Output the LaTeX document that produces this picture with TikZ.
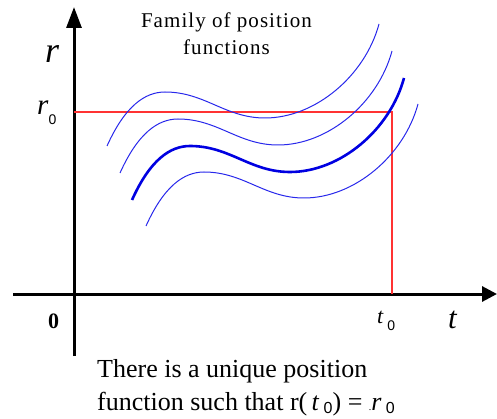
\documentclass[tikz,border=0pt]{standalone}
\usepackage{fontspec}
\setmainfont{Liberation Serif}
\newfontfamily\arialsub{Liberation Sans}
\usetikzlibrary{arrows.meta}
\definecolor{curveblue}{RGB}{40,40,235}
\definecolor{thickblue}{RGB}{0,0,225}
\definecolor{guidered}{RGB}{255,50,50}
\tikzset{
  axis/.style={line width=3pt, -{Triangle[length=21pt,width=15pt]}},
  xaxisstyle/.style={line width=3pt, -{Triangle[length=15pt,width=15pt]}},
  thincurve/.style={curveblue, line width=1pt},
  thickcurve/.style={thickblue, line width=2.6pt},
  guide/.style={guidered, line width=1.3pt},
  lab/.style={inner sep=0pt, anchor=base west},
}
\newcommand{\subz}[2]{\raisebox{-#2pt}{\arialsub\fontsize{#1}{#1}\selectfont 0}}
\begin{document}
\begin{tikzpicture}[x=1pt,y=-1pt]
\useasboundingbox (0,0) rectangle (497,419);
% axes
\coordinate (ybot) at (74,356);
\coordinate (ytop) at (74,7);
\coordinate (xleft) at (13,294);
\coordinate (xright) at (497,294);
\draw[axis] (ybot) -- (ytop);
\draw[xaxisstyle] (xleft) -- (xright);
% guide lines
\coordinate (ry) at (74,112);
\coordinate (corner) at (392,112);
\coordinate (tx) at (392,294);
\draw[guide] (ry) -- (corner) -- (tx);
% curves
\foreach \dx/\dy/\st in {-25/-54/thincurve, -12/-27/thincurve, 0/0/thickcurve, 14/26/thincurve}
  \draw[\st, shift={(\dx,\dy)}] (132,200) .. controls (150,160) and (170,146) .. (190,146)
     .. controls (230,146) and (250,172) .. (290,172)
     .. controls (340,172) and (390,130) .. (404,78);
% labels
\node[lab] (rlab) at (45,63) {\fontsize{36}{36}\selectfont\textit{r}};
\node[lab] (r0lab) at (37,115) {\fontsize{29}{29}\selectfont\textit{r}\subz{14}{10}};
\node[lab] (zero) at (48,328) {\fontsize{22}{22}\selectfont\textbf{0}};
\node[lab] (t0lab) at (377,323) {\fontsize{22}{22}\selectfont\textit{t}\,\subz{14}{7}};
\node[lab] (tlab) at (448,328) {\fontsize{31}{31}\selectfont\textit{t}};
\node[inner sep=0pt, anchor=base, align=center,
      font={\fontsize{21}{27}\selectfont\addfontfeature{LetterSpace=5}}] (family) at (226.5,55)
  {Family of position\\functions};
\node[lab] (unique1) at (97,377) {\fontsize{26}{26}\selectfont There is a unique position};
\node[lab] (unique2) at (97,410) {\fontsize{26}{26}\selectfont function such that r(\,\textit{t}\,\subz{16}{3}) = {\fontsize{10}{10}\selectfont.}\textit{r}\,\subz{16}{3}};
\end{tikzpicture}
\end{document}
